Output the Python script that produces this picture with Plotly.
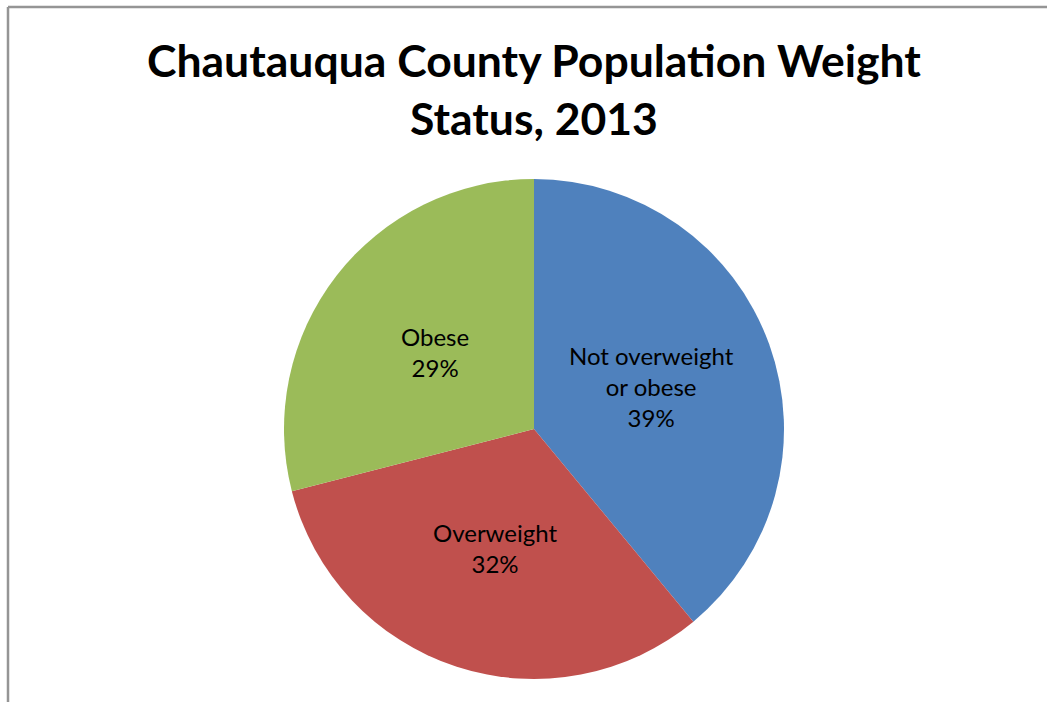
import math
import plotly.graph_objects as go

categories = ["Not overweight or obese", "Overweight", "Obese"]
label_lines = ["Not overweight<br>or obese", "Overweight", "Obese"]
values = [39, 32, 29]
colors = ["#4F81BD", "#C0504D", "#9BBB59"]
title_text = "Chautauqua County Population Weight<br>Status, 2013"

W, H = 1047, 702
cx, cy, R = 534, 429, 250

fig = go.Figure(go.Pie(
    labels=categories,
    values=values,
    sort=False,
    direction="clockwise",
    rotation=0,
    marker=dict(colors=colors, line=dict(width=0)),
    textinfo="none",
    hoverinfo="label+percent",
    showlegend=False,
    domain=dict(x=[(cx - R) / W, (cx + R) / W], y=[1 - (cy + R) / H, 1 - (cy - R) / H]),
))

# data labels placed at half radius along each slice's bisector
total = sum(values)
cum = 0
annotations = []
for lab, v in zip(label_lines, values):
    mid = (cum + v / 2) / total * 2 * math.pi
    cum += v
    x = cx + 0.5 * R * math.sin(mid)
    y = cy - 0.5 * R * math.cos(mid)
    pct = round(v / total * 100)
    annotations.append(dict(
        x=x / W, y=1 - y / H, xref="paper", yref="paper",
        text=f"{lab}<br>{pct}%", showarrow=False,
        font=dict(family="Lato, Carlito, sans-serif", size=24, color="#000000"),
        align="center", xanchor="center", yanchor="middle",
    ))

annotations.append(dict(
    x=534 / W, y=1 - 31 / H, xref="paper", yref="paper",
    text=f"<b>{title_text}</b>", showarrow=False,
    font=dict(family="Lato, Carlito, sans-serif", size=44.5, color="#000000"),
    align="center", xanchor="center", yanchor="top",
))

fig.update_layout(
    width=W, height=H,
    margin=dict(l=0, r=0, t=0, b=0),
    paper_bgcolor="white",
    plot_bgcolor="white",
    annotations=annotations,
    shapes=[
        dict(type="line", xref="paper", yref="paper", x0=8 / W, x1=1, y0=1 - 7 / H, y1=1 - 7 / H,
             line=dict(color="#959595", width=2.5)),
        dict(type="line", xref="paper", yref="paper", x0=8 / W, x1=8 / W, y0=0, y1=1 - 7 / H,
             line=dict(color="#959595", width=2.5)),
    ],
)

fig.write_html(
    "out.html",
    config={"displayModeBar": False},
    post_script="document.body.style.margin='0';document.body.style.overflow='hidden';",
)
